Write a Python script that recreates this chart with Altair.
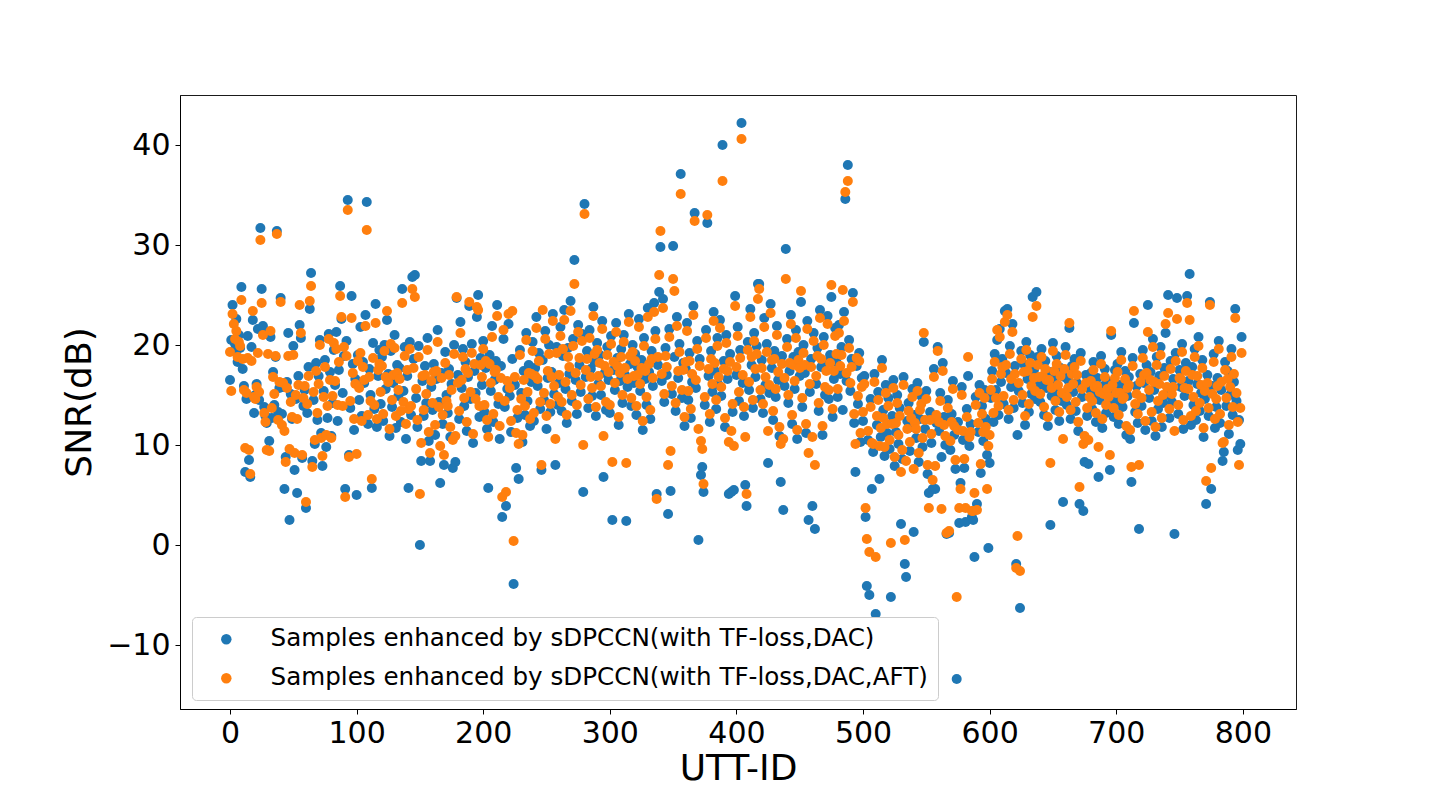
import altair as alt
import pandas as pd

label_a = "Samples enhanced by sDPCCN(with TF-loss,DAC)"
label_b = "Samples enhanced by sDPCCN(with TF-loss,DAC,AFT)"

x_ticks = [0, 100, 200, 300, 400, 500, 600, 700, 800]
y_ticks = [-10, 0, 10, 20, 30, 40]

blue = [
    16.5, 20.5, 24.0, 19.4, 20.1, 22.6, 18.3, 21.0, 19.7, 25.8, 17.6, 15.9, 7.3, 14.6, 20.9, 8.5, 6.8, 19.8, 22.5, 13.2,
    15.0, 16.1, 21.6, 14.5, 31.7, 25.6, 21.9, 13.8, 12.9, 12.2, 21.2, 10.4, 20.8, 12.7, 17.3, 14.0, 18.8, 31.4, 13.3, 15.7,
    24.7, 13.1, 15.8, 5.6, 8.8, 16.3, 21.2, 2.5, 15.1, 12.6, 19.9, 7.5, 14.6, 5.2, 16.9, 22.0, 20.7, 8.7, 13.9, 15.5,
    3.7, 13.2, 17.8, 23.6, 27.2, 8.4, 14.5, 10.1, 18.2, 12.5, 16.9, 20.5, 11.2, 7.9, 15.4, 18.5, 9.8, 12.7, 21.1, 17.3,
    10.9, 14.2, 19.5, 16.0, 21.3, 12.4, 17.5, 25.9, 22.6, 15.2, 18.9, 5.6, 20.4, 34.5, 9.0, 13.7, 24.9, 18.1, 11.5, 16.6,
    5.0, 19.0, 14.5, 21.8, 12.9, 18.3, 16.2, 23.0, 34.3, 12.1, 17.6, 15.0, 5.7, 20.2, 13.6, 24.1, 11.8, 16.9, 19.5, 14.1,
    18.8, 12.4, 20.0, 15.6, 22.5, 17.1, 10.9, 19.4, 13.8, 16.2, 21.0, 11.7, 18.0, 14.9, 17.7, 12.3, 25.6, 15.4, 19.8, 10.6,
    16.9, 5.7, 20.3, 13.0, 26.8, 18.6, 27.0, 14.7, 11.8, 19.9, 0.0, 8.4, 16.4, 12.9, 17.9, 14.2, 20.7, 10.4, 8.4, 15.8,
    13.5, 18.1, 11.0, 16.6, 21.5, 14.3, 6.2, 17.2, 12.1, 8.0, 19.3, 15.0, 13.2, 17.6, 10.8, 16.1, 7.7, 20.0, 8.3, 24.7,
    17.0, 12.6, 22.3, 15.7, 19.6, 13.9, 18.3, 11.4, 16.8, 23.9, 14.6, 20.1, 10.2, 17.4, 15.2, 22.8, 25.0, 12.8, 18.7, 16.0,
    20.4, 13.3, 17.7, 11.6, 5.7, 19.0, 15.4, 21.9, 12.3, 16.5, 18.4, 24.0, 14.1, 10.6, 17.9, 2.8, 20.6, 13.8, 3.9, 15.6,
    22.1, 14.9, 11.3, 18.6, -3.9, 16.0, 7.7, 12.7, 6.6, 19.5, 15.2, 10.3, 17.4, 13.0, 21.2, 14.4, 18.0, 11.9, 16.3, 20.3,
    12.4, 17.7, 22.8, 15.9, 19.2, 13.6, 7.5, 18.5, 14.5, 21.4, 11.6, 16.7, 20.0, 13.3, 17.3, 23.1, 15.1, 8.0, 19.8, 14.0,
    16.2, 21.8, 13.4, 18.9, 23.5, 15.6, 12.2, 19.7, 17.1, 24.4, 14.4, 20.6, 28.5, 16.5, 13.1, 22.0, 18.0, 15.3, 21.1, 5.3,
    34.1, 16.8, 19.4, 13.7, 21.5, 17.6, 14.9, 23.8, 18.3, 12.9, 20.2, 16.1, 19.0, 15.0, 22.4, 6.8, 17.2, 13.5, 19.8, 16.5,
    13.2, 20.9, 2.5, 17.5, 15.5, 22.2, 18.7, 12.0, 16.4, 19.6, 14.2, 21.0, 17.0, 2.4, 15.8, 23.1, 18.1, 13.9, 20.0, 16.2,
    19.1, 13.0, 17.8, 22.6, 15.4, 18.5, 11.5, 20.7, 16.6, 14.0, 23.7, 17.3, 12.6, 19.4, 15.9, 24.2, 21.4, 5.1, 18.0, 25.3,
    29.8, 16.4, 24.6, 14.3, 19.7, 17.0, 3.1, 21.6, 5.4, 15.1, 29.9, 18.8, 13.4, 22.8, 16.7, 20.1, 37.1, 14.7, 18.2, 11.9,
    17.6, 22.2, 14.5, 19.2, 12.7, 16.3, 23.9, 33.2, 15.7, 20.4, 0.5, 18.6, 7.0, 7.8, 5.3, 14.0, 21.5, 32.2, 16.9, 12.3,
    19.4, 15.3, 23.3, 17.4, 13.6, 20.7, 16.0, 22.5, 14.9, 40.0, 18.4, 11.8, 21.0, 16.6, 5.1, 19.1, 5.3, 13.3, 5.5, 24.9,
    17.0, 21.8, 14.4, 19.5, 42.2, 16.2, 12.9, 6.0, 3.9, 20.3, 15.5, 23.6, 18.0, 13.7, 21.2, 16.8, 19.9, 26.1, 26.1, 14.6,
    18.5, 13.2, 22.7, 16.0, 20.1, 8.2, 15.2, 24.1, 17.7, 12.5, 19.4, 14.8, 21.9, 16.5, 10.9, 6.3, 18.9, 3.5, 15.9, 29.6,
    20.6, 14.2, 17.4, 23.0, 12.1, 18.8, 15.6, 21.5, 10.6, 19.3, 16.9, 24.3, 13.8, 20.0, 17.2, 11.2, 22.4, 2.5, 15.3, 18.6,
    3.9, 21.2, 1.6, 16.1, 19.7, 13.4, 23.5, 17.8, 11.0, 20.8, 15.0, 18.2, 22.9, 14.6, 19.0, 24.8, 12.8, 16.6, 21.7, 18.3,
    14.8, 22.0, 17.1, 19.8, 13.5, 23.3, 34.6, 16.4, 38.0, 20.5, 15.4, 18.6, 25.2, 12.2, 7.3, 17.9, 14.1, 19.2, 10.3, 16.7,
    12.4, 16.9, 2.8, -4.1, 10.5, -5.0, 14.6, 5.6, 9.3, 17.1, -6.9, 12.0, 15.3, 6.6, 10.8, 18.5, 13.5, 8.9, 16.0, 11.2,
    14.7, 9.6, -5.2, 12.9, 16.5, 7.9, 11.3, 15.0, 10.1, 13.7, 2.1, 8.6, 16.8, -1.9, -3.2, 12.4, 14.2, 9.4, 11.8, 15.6,
    1.3, 13.0, 10.7, 16.2, 8.3, 12.6, 14.9, 9.8, 20.3, 11.6, 15.4, 7.1, 5.2, 13.3, 10.2, 5.6, 17.6, 5.6, 12.2, 19.8,
    11.4, 15.2, 8.8, 18.2, 12.8, 10.0, 1.1, 14.5, 1.2, 9.5, 13.1, 16.4, 11.0, 7.6, -13.4, 12.3, 2.2, 6.2, 15.8, 10.5,
    7.7, 2.3, 13.6, 16.9, 9.9, 12.1, 2.8, 2.5, -1.2, 14.8, 4.1, 11.3, 16.0, 7.2, 13.9, 10.4, 15.5, 12.6, 9.0, -0.3,
    8.2, 14.7, 17.4, 12.3, 19.1, 15.5, 20.5, 13.0, 21.6, 16.3, 18.6, 14.1, 23.4, 17.2, 23.6, 12.6, 19.9, 15.8, 22.1, 13.7,
    17.9, -1.9, 11.0, 15.4, -6.3, 19.4, 14.2, 18.1, 12.0, 20.3, 16.6, 13.3, 19.0, 15.1, 24.8, 17.5, 14.6, 25.3, 18.8, 16.0,
    14.3, 19.6, 16.1, 13.0, 18.4, 15.7, 11.9, 17.3, 2.0, 14.9, 20.2, 16.6, 13.5, 18.9, 15.2, 12.4, 17.7, 14.4, 4.3, 16.8,
    19.8, 14.0, 16.5, 21.7, 12.6, 17.9, 15.3, 18.6, 13.4, 16.2, 11.4, 4.1, 19.2, 14.8, 3.4, 8.3, 17.0, 12.9, 8.1, 15.6,
    17.2, 13.6, 18.3, 15.0, 12.3, 16.7, 6.8, 14.5, 18.9, 11.7, 15.9, 17.6, 13.2, 16.4, 14.0, 7.5, 21.0, 15.2, 12.8, 17.5,
    14.4, 18.1, 12.1, 16.0, 19.3, 13.8, 15.6, 17.4, 11.0, 14.9, 16.8, 10.6, 6.3, 18.7, 22.2, 13.3, 15.9, 12.2, 1.6, 17.1,
    13.9, 19.5, 16.2, 11.5, 18.0, 24.0, 14.7, 17.3, 12.4, 20.6, 15.5, 10.9, 18.8, 13.6, 16.9, 19.8, 11.8, 14.2, 17.7, 21.2,
    15.0, 25.0, 12.7, 18.4, 14.3, 16.6, 1.1, 19.2, 24.7, 13.1, 17.5, 15.8, 20.1, 11.6, 14.9, 18.2, 24.9, 16.4, 27.1, 12.0,
    17.8, 14.0, 19.6, 12.5, 16.1, 20.8, 13.4, 15.2, 18.5, 10.8, 14.6, 4.1, 17.0, 12.9, 24.3, 5.6, 15.9, 19.1, 11.7, 13.8,
    16.7, 20.4, 12.2, 15.5, 8.4, 9.3, 18.3, 13.9, 17.4, 11.1, 15.0, 19.6, 13.0, 16.3, 23.6, 14.4, 9.5, 12.5, 10.1, 20.8,
]

orange = [
    19.3, 15.4, 23.1, 22.1, 20.6, 21.4, 18.8, 20.3, 19.9, 24.5, 18.6, 15.5, 9.7, 15.2, 18.7, 9.5, 7.1, 18.4, 23.4, 14.8,
    14.6, 15.8, 19.2, 15.3, 30.5, 24.2, 21.0, 13.2, 12.3, 9.5, 19.1, 9.4, 21.4, 13.7, 16.8, 15.1, 18.9, 31.1, 12.5, 16.3,
    24.3, 12.0, 16.2, 11.4, 8.3, 15.7, 18.9, 9.6, 14.3, 12.8, 19.0, 9.2, 15.0, 12.6, 16.0, 24.0, 21.2, 9.0, 14.7, 15.9,
    4.3, 14.1, 16.9, 24.4, 25.9, 7.8, 15.3, 10.5, 17.4, 13.2, 16.1, 20.0, 10.7, 8.9, 14.8, 17.8, 11.0, 13.9, 20.6, 16.5,
    10.7, 14.9, 20.2, 16.4, 19.6, 14.0, 18.3, 24.9, 22.8, 13.9, 19.8, 4.8, 18.9, 33.5, 8.8, 14.4, 22.7, 17.2, 12.6, 16.1,
    9.1, 18.4, 15.7, 19.2, 12.4, 17.8, 16.5, 21.9, 31.5, 13.0, 16.8, 14.4, 6.6, 18.7, 14.0, 22.2, 12.6, 17.5, 18.1, 15.3,
    17.9, 13.1, 19.4, 16.8, 23.4, 16.3, 11.6, 20.1, 14.5, 17.0, 19.7, 12.9, 17.2, 15.5, 16.6, 13.4, 24.2, 14.3, 18.9, 12.1,
    17.5, 13.6, 19.6, 13.9, 25.6, 17.7, 24.8, 15.6, 12.5, 18.8, 5.1, 10.2, 16.9, 13.5, 17.0, 15.1, 19.5, 11.3, 9.2, 16.4,
    14.2, 17.3, 12.0, 17.4, 20.3, 13.8, 9.9, 16.7, 13.0, 9.0, 18.2, 14.4, 13.9, 17.0, 11.8, 15.5, 10.5, 19.1, 10.9, 24.8,
    16.2, 13.4, 21.2, 16.5, 18.8, 14.7, 17.6, 12.3, 17.2, 24.3, 15.3, 19.2, 11.1, 18.1, 14.6, 23.8, 23.5, 13.9, 18.0, 16.8,
    19.6, 14.0, 18.4, 12.5, 10.8, 18.1, 16.2, 20.8, 13.1, 17.3, 17.5, 22.9, 14.8, 11.9, 16.7, 4.8, 21.5, 14.4, 5.3, 16.4,
    23.1, 15.7, 12.4, 23.4, 0.4, 16.8, 11.2, 13.5, 10.1, 19.0, 14.6, 11.0, 16.5, 13.9, 20.5, 15.3, 17.2, 12.6, 17.1, 19.4,
    13.2, 16.9, 21.7, 16.6, 18.4, 14.3, 8.0, 23.5, 15.2, 20.6, 12.9, 17.4, 19.1, 14.1, 16.8, 22.4, 15.9, 10.6, 19.2, 14.8,
    17.0, 20.9, 14.3, 19.6, 22.5, 16.3, 13.0, 18.8, 17.8, 23.4, 15.0, 19.9, 26.1, 17.2, 14.0, 21.3, 18.7, 16.0, 20.4, 10.0,
    33.1, 17.5, 18.6, 14.6, 20.7, 16.8, 15.7, 22.9, 19.1, 13.8, 19.5, 16.9, 18.2, 15.9, 21.6, 10.9, 17.9, 14.3, 19.0, 17.3,
    14.0, 20.1, 8.3, 18.3, 16.2, 21.3, 17.9, 12.8, 17.2, 18.8, 15.0, 20.3, 17.7, 8.2, 16.6, 22.3, 18.9, 14.7, 19.3, 16.9,
    18.4, 13.9, 17.0, 21.8, 16.1, 17.7, 12.4, 19.9, 17.4, 14.8, 22.8, 18.1, 13.5, 18.6, 16.7, 23.3, 20.6, 4.6, 18.8, 27.0,
    31.4, 17.1, 23.7, 15.1, 18.9, 17.8, 8.0, 20.8, 9.4, 15.9, 26.6, 25.4, 14.2, 21.9, 17.4, 19.3, 35.1, 15.5, 17.5, 12.8,
    18.3, 21.4, 15.4, 18.4, 13.6, 17.1, 23.0, 32.4, 16.5, 19.6, 11.6, 17.9, 10.4, 9.6, 6.1, 14.8, 20.7, 33.0, 17.6, 13.1,
    18.6, 16.1, 22.4, 18.2, 14.5, 19.9, 16.8, 21.7, 15.8, 36.4, 17.6, 12.7, 20.2, 17.4, 10.3, 18.3, 11.4, 14.1, 9.9, 23.9,
    17.8, 20.9, 15.3, 18.7, 40.6, 17.0, 13.8, 10.8, 5.1, 19.5, 16.3, 22.8, 18.8, 14.5, 20.4, 17.6, 19.1, 24.6, 25.6, 15.5,
    17.7, 14.1, 21.8, 16.8, 19.3, 11.4, 16.0, 23.2, 18.5, 13.4, 18.6, 15.6, 21.0, 17.3, 11.8, 10.1, 18.1, 10.6, 16.7, 26.6,
    19.8, 15.0, 18.2, 22.1, 13.0, 18.0, 16.4, 20.7, 11.5, 18.5, 17.7, 25.4, 14.7, 19.2, 18.0, 12.1, 21.6, 9.2, 16.1, 17.8,
    10.8, 20.4, 8.0, 16.9, 18.9, 14.2, 22.7, 18.6, 11.9, 20.0, 15.8, 17.4, 22.1, 15.5, 18.2, 26.0, 13.6, 17.4, 20.9, 19.1,
    15.6, 21.2, 17.9, 19.0, 25.5, 22.4, 35.3, 17.2, 36.4, 19.7, 16.2, 17.8, 24.3, 13.1, 10.1, 18.7, 14.9, 18.4, 11.2, 15.8,
    13.3, 16.1, 3.7, 0.6, 11.4, -0.7, 13.8, 10.2, 10.1, 16.3, -1.2, 12.9, 14.5, 9.9, 11.7, 17.7, 12.7, 9.8, 15.2, 12.1,
    13.9, 10.5, 0.2, 12.1, 15.7, 8.8, 12.2, 14.2, 11.0, 12.9, 7.3, 9.5, 16.0, 0.5, 8.4, 11.6, 13.4, 10.3, 12.7, 14.8,
    7.6, 12.2, 11.6, 15.4, 9.2, 13.5, 14.1, 10.7, 21.2, 12.5, 14.6, 8.0, 3.7, 12.5, 11.1, 6.5, 16.8, 7.9, 13.0, 19.4,
    12.3, 14.4, 3.6, 17.4, 12.0, 10.9, 1.2, 13.7, 1.4, 10.4, 12.3, 15.6, 11.9, 8.5, -5.2, 11.5, 3.7, 5.6, 15.0, 11.4,
    8.6, 3.7, 12.8, 18.8, 10.8, 11.3, 3.4, 3.4, 5.2, 14.0, 3.5, 12.2, 15.2, 8.1, 13.1, 11.3, 14.7, 11.8, 5.6, 9.9,
    11.0, 15.5, 16.6, 13.2, 18.3, 14.7, 21.5, 13.9, 20.8, 17.1, 17.8, 14.9, 22.3, 18.0, 23.0, 13.5, 19.1, 16.6, 21.3, 14.5,
    17.1, -2.3, 0.9, 16.2, -2.6, 18.6, 15.0, 17.3, 12.9, 19.5, 17.4, 14.1, 18.2, 15.9, 22.8, 16.7, 15.4, 23.9, 18.0, 16.8,
    15.1, 18.8, 16.9, 13.8, 17.6, 16.5, 12.8, 16.5, 8.2, 15.7, 19.4, 17.4, 14.4, 18.1, 16.0, 13.3, 16.9, 15.2, 10.6, 17.6,
    19.0, 14.8, 15.7, 22.2, 13.5, 17.1, 16.1, 17.8, 14.3, 17.0, 12.3, 5.8, 18.4, 15.6, 10.1, 10.9, 16.2, 13.7, 10.5, 14.8,
    16.4, 14.4, 17.5, 15.8, 13.2, 15.9, 9.8, 15.3, 18.1, 12.6, 15.1, 16.8, 14.0, 15.6, 14.8, 9.0, 21.4, 16.0, 13.7, 16.7,
    15.2, 17.3, 13.0, 15.2, 18.5, 14.6, 14.8, 16.6, 11.9, 15.7, 16.0, 11.5, 7.8, 17.9, 23.4, 14.1, 15.1, 13.1, 8.0, 16.3,
    14.7, 18.7, 17.0, 12.4, 17.2, 21.3, 15.5, 16.5, 13.3, 19.8, 16.3, 11.8, 18.0, 14.4, 16.1, 19.0, 12.7, 15.0, 16.9, 22.1,
    15.8, 23.2, 13.6, 17.6, 15.1, 15.8, 11.4, 18.4, 22.6, 14.0, 16.7, 16.6, 19.3, 12.5, 15.7, 17.4, 24.2, 15.6, 22.5, 12.9,
    17.0, 14.8, 18.8, 13.4, 16.9, 19.9, 14.2, 16.0, 17.7, 11.7, 15.4, 6.4, 16.2, 13.7, 24.0, 7.7, 15.1, 18.3, 12.6, 14.6,
    15.9, 19.6, 13.1, 16.3, 10.2, 10.3, 17.5, 14.7, 16.6, 12.0, 15.8, 18.8, 13.8, 17.1, 22.7, 15.2, 12.3, 8.0, 13.7, 19.2,
]

df = pd.concat([
    pd.DataFrame({"utt": list(range(len(blue))), "snr": blue, "series": label_a, "order": 0}),
    pd.DataFrame({"utt": list(range(len(orange))), "snr": orange, "series": label_b, "order": 1}),
], ignore_index=True)

FONT = "DejaVu Sans"

chart = alt.Chart(df).mark_point(
    filled=True, size=100, opacity=1, strokeWidth=0
).encode(
    x=alt.X("utt:Q", title="UTT-ID",
            scale=alt.Scale(domain=[-39.5, 842], nice=False, zero=False),
            axis=alt.Axis(values=x_ticks, grid=False, tickSize=5, tickColor="black",
                          domainColor="black", labelColor="black", titleColor="black",
                          labelFontSize=30, titleFontSize=36, titleFontWeight="normal",
                          labelFont=FONT, titleFont=FONT, labelPadding=4, titlePadding=3,
                          labelFlush=False)),
    y=alt.Y("snr:Q", title="SNR(dB)",
            scale=alt.Scale(domain=[-16.4, 45], nice=False, zero=False),
            axis=alt.Axis(values=y_ticks, grid=False, tickSize=5, tickColor="black",
                          domainColor="black", labelColor="black", titleColor="black",
                          labelFontSize=30, titleFontSize=36, titleFontWeight="normal",
                          labelFont=FONT, titleFont=FONT, labelPadding=5, titlePadding=8,
                          labelFlush=False)),
    color=alt.Color("series:N", title=None,
                    scale=alt.Scale(domain=[label_a, label_b], range=["#1f77b4", "#ff7f0e"]),
                    legend=alt.Legend(orient="none", legendX=12, legendY=522,
                                      labelFontSize=24.6, labelFont=FONT, labelColor="black",
                                      symbolType="circle", symbolSize=110, symbolStrokeWidth=0,
                                      symbolOffset=12, labelOffset=32, rowPadding=14,
                                      padding=10, strokeColor="#cccccc", fillColor="white",
                                      cornerRadius=4, labelLimit=900)),
    order=alt.Order("order:Q"),
).properties(
    width=1116, height=614,
    autosize=alt.AutoSizeParams(type="none"),
    padding={"left": 172, "top": 87, "right": 100, "bottom": 88},
).configure(
    background="white"
).configure_view(
    stroke="#1a1a1a", strokeWidth=1
)

chart.save("out.html", embed_options={"renderer": "svg", "actions": False})
